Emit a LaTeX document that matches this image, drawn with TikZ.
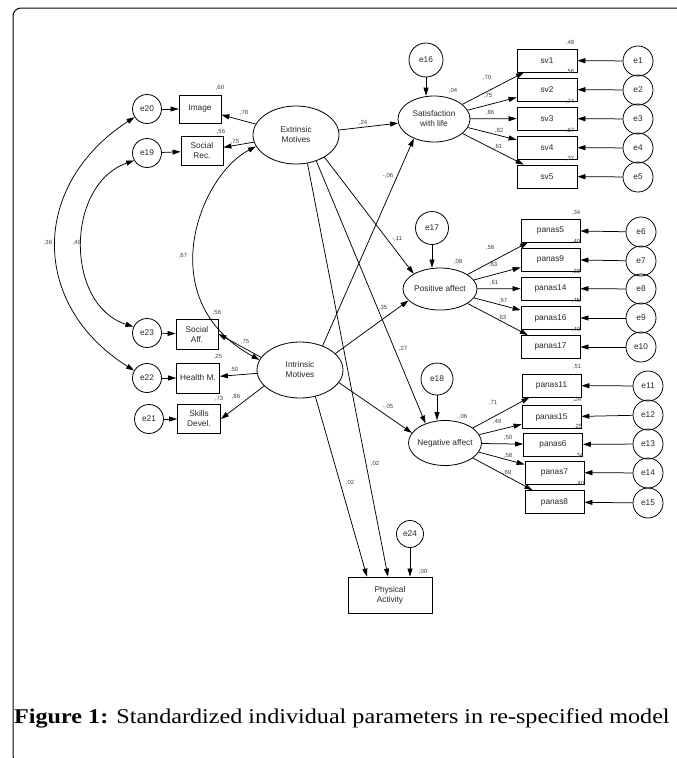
\documentclass[tikz,border=0pt]{standalone}
\usepackage{fontspec}
\setmainfont{Liberation Serif}
\newfontfamily\diagfont{Liberation Sans}
\newfontfamily\capfont[FakeStretch=1.15]{Liberation Serif}
\usetikzlibrary{shapes.geometric,arrows.meta,calc}
\begin{document}
\begin{tikzpicture}[x=1pt,y=-1pt,
  every node/.style={font=\diagfont\fontsize{8.3}{10}\selectfont, text=black!85},
  obs/.style={draw, rectangle, line width=0.8pt, inner sep=1pt, align=center},
  svbox/.style={obs, minimum width=60pt, minimum height=23pt},
  pbox/.style={obs, minimum width=59pt, minimum height=23pt},
  lat/.style={draw, ellipse, line width=0.8pt, inner sep=0pt, align=center},
  err/.style={draw, circle, line width=0.8pt, inner sep=0pt, minimum size=30pt},
  lbl/.style={font=\diagfont\fontsize{6}{7}\selectfont, text=black!75, inner sep=0pt},
  arr/.style={-{Triangle[length=8pt,width=5pt]}, line width=0.75pt},
  cov/.style={{Triangle[length=8pt,width=5pt]}-{Triangle[length=8pt,width=5pt]}, line width=0.75pt},
]
\useasboundingbox (0,0) rectangle (677,758);
% frame
\draw[line width=1pt, rounded corners=8pt] (13,8) rectangle (720,764);

% latent variables
\node[lat, minimum width=86pt, minimum height=58pt] (EM) at (296,135) {Extrinsic\\Motives};
\node[lat, minimum width=86pt, minimum height=56pt] (IM) at (300,370) {Intrinsic\\Motives};
\node[lat, minimum width=72pt, minimum height=46pt] (SWL) at (434,119) {Satisfaction\\with life};
\node[lat, minimum width=74pt, minimum height=42pt] (PosA) at (440,289) {\makebox[0pt][c]{Positive affect}};
\node[lat, minimum width=73pt, minimum height=45pt] (NA) at (445,443) {\makebox[0pt][c]{Negative affect}};

% left indicators
\node[obs, minimum width=42pt, minimum height=28pt] (img) at (200,109) {Image};
\node[obs, minimum width=42pt, minimum height=29pt] (SR) at (202,151) {Social\\Rec.};
\node[obs, minimum width=42pt, minimum height=30pt] (SA) at (197,334) {Social\\Aff.};
\node[obs, minimum width=43pt, minimum height=30pt] (HM) at (198,378) {Health M.};
\node[obs, minimum width=43pt, minimum height=29pt] (SD) at (199,419) {Skills\\Devel.};

\node[err, minimum size=29pt] (e20) at (147,109) {e20};
\node[err, minimum size=29pt] (e19) at (147,153) {e19};
\node[err, minimum size=29pt] (e23) at (147,333) {e23};
\node[err, minimum size=29pt] (e22) at (147,378) {e22};
\node[err, minimum size=29pt] (e21) at (149,419) {e21};

\draw[arr] (e20) -- (img);
\draw[arr] (e19) -- (SR);
\draw[arr] (e23) -- (SA);
\draw[arr] (e22) -- (HM);
\draw[arr] (e21) -- (SD);

\draw[arr] (EM) -- (img);
\draw[arr] (EM) -- (SR);
\draw[arr] (IM.162) -- (SA.east);
\draw[arr] (IM) -- (HM);
\draw[arr] (IM.204) -- (SD.east);

% covariances
\draw[cov] (e20.213) .. controls (30,185) and (30,305) .. (e22.150);
\draw[cov] (e19.210) .. controls (65,185) and (65,305) .. (e23.155);
\draw[cov] (EM.196) .. controls (200,175) and (150,300) .. (IM.166);

% disturbance terms
\node[err, minimum size=34pt] (e16) at (426,60) {e16};
\node[err, minimum size=33pt] (e17) at (432,228) {e17};
\node[err, minimum size=32pt] (e18) at (437,379) {e18};
\node[err, minimum size=27pt] (e24) at (410,534) {e24};
\draw[arr] (e16) -- (SWL.north -| e16);
\draw[arr] (e17) -- (PosA.north -| e17);
\draw[arr] (e18) -- (NA.north -| e18);

% physical activity
\node[obs, minimum width=84pt, minimum height=36pt] (PA) at (390,595) {Physical\\Activity};
\draw[arr] (e24) -- (PA.north -| e24);

% structural paths
\draw[arr] (EM) -- (SWL);
\draw[arr] (EM.-38) -- (PosA.150);
\draw[arr] (EM.-52) -- (NA.135);
\draw[arr] (EM.-68) -- ([xshift=-2pt]PA.north);
\draw[arr] (IM.47) -- (SWL.-136);
\draw[arr] (IM.25) -- (PosA.-160);
\draw[arr] (IM.-18) -- (NA.163);
\draw[arr] (IM.-60) -- ([xshift=-23pt]PA.north);

% satisfaction indicators
\foreach \n/\y in {1/60.5,2/89.5,3/118.5,4/147.5,5/176.5} {
  \node[svbox] (sv\n) at (547,\y) {sv\n};
  \node[err] (e\n) at (638,\y+0.5) {e\n};
  \draw[arr] (e\n) -- (sv\n);
  \draw[arr] (SWL) -- (sv\n);
}
% positive affect indicators
\foreach \k/\n/\y/\ey in {5/6/230.5/232,9/7/259.5/261,14/8/288.5/289,16/9/318/318,17/10/347/347} {
  \node[pbox] (panas\k) at (550.5,\y) {panas\k};
  \node[err] (e\n) at (641,\ey) {e\n};
  \draw[arr] (e\n) -- (panas\k);
  \draw[arr] (PosA) -- (panas\k);
}
% negative affect indicators
\foreach \k/\n/\x/\y/\ey in {11/11/551.5/385.5/386,15/12/551.5/417/415,6/13/553/444.5/444,7/14/554.5/472.5/473,8/15/554.5/502/503} {
  \node[pbox] (panas\k) at (\x,\y) {panas\k};
  \node[err] (e\n) at (648,\ey) {e\n};
  \draw[arr] (e\n) -- (panas\k);
  \draw[arr] (NA) -- (panas\k);
}

% coefficient labels
\foreach \x/\y/\t [count=\i] in {
  220/88/{,60}, 221/132/{,56}, 244/113/{,78}, 235/142/{,75},
  48/243/{,36}, 77/243/{,48}, 183/256/{,67},
  217/313/{,56}, 218/357/{,25}, 219/399/{,73}, 245/342/{,75}, 234/370/{,50}, 236/397/{,86},
  453/91/{,04}, 487/78/{,70}, 488/96/{,75}, 490/113/{,86}, 499/131/{,82}, 498/147/{,61},
  570/43/{,48}, 570/72/{,56}, 570/102/{,74}, 570/131/{,67}, 570/159/{,37},
  363/123/{,24}, 388/176/{-,06},
  458/262/{,08}, 490/248/{,58}, 493/265/{,63}, 494/283/{,61}, 503/301/{,67}, 502/318/{,63},
  576/213/{,34}, 576/242/{,40}, 576/272/{,38}, 576/301/{,45}, 576/330/{,40},
  397/239/{-,11}, 383/308/{,35}, 403/349/{,27},
  463/417/{,06}, 493/403/{,71}, 497/422/{,49}, 508/438/{,50}, 508/456/{,58}, 507/473/{,69},
  577/367/{,51}, 577/400/{,24}, 578/427/{,25}, 579/456/{,34}, 580/484/{,40},
  388/407/{-,05}, 375/464/{,02}, 350/483/{,02}, 423/572/{,00}}
  \node[lbl] (L\i) at (\x,\y) {\t};

% caption
\node[anchor=base west, inner sep=0pt, font=\capfont\fontsize{21}{25}\selectfont, text=black] (cap) at (14,723)
  {\textbf{Figure 1:} Standardized individual parameters in re-specified model};
\end{tikzpicture}
\end{document}
